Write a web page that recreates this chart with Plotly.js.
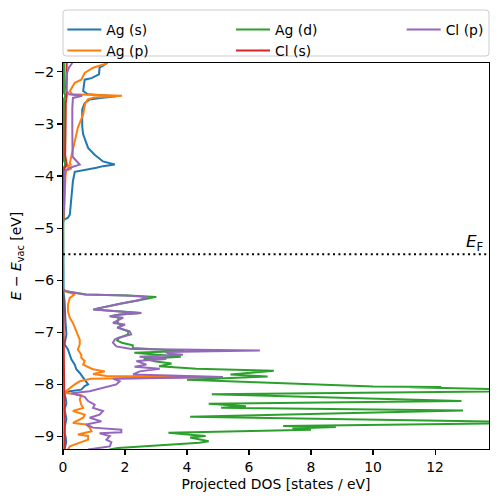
<!DOCTYPE html>
<html>
<head>
<meta charset="utf-8">
<script src="https://cdn.plot.ly/plotly-3.0.1.min.js"></script>
<style>
  html, body { margin: 0; padding: 0; background: #ffffff; }
  #chart { width: 498px; height: 502px; }
</style>
</head>
<body>
<div id="chart"></div>
<script>
// ---------- data (energy E - E_vac [eV] vs projected DOS [states / eV]) ----------
const seriesNames = ["Ag (s)", "Ag (p)", "Ag (d)", "Cl (s)", "Cl (p)"];
const seriesColors = ["#1f77b4", "#ff7f0e", "#2ca02c", "#d62728", "#9467bd"];

const agS_E = [-1.83, -1.86, -1.92, -2.05, -2.12, -2.15, -2.28, -2.37, -2.43, -2.47, -2.50, -2.53, -2.60, -2.72, -3.05, -3.20, -3.46, -3.59, -3.72, -3.78, -3.81, -3.84, -3.92, -4.10, -4.42, -4.74, -4.80, -4.84, -4.90,
  -6.15, -6.25, -6.40, -6.60, -6.80, -7.04, -7.23, -7.33, -7.43, -7.52, -7.62, -7.71, -7.78, -7.87, -7.95, -8.00, -8.03, -8.10, -8.13, -8.18, -8.25, -8.36, -8.48, -8.58, -8.67, -8.80, -8.93, -9.02, -9.12, -9.25];
const agS_dos = [1.40, 1.35, 1.18, 1.16, 0.92, 0.70, 0.67, 0.65, 0.80, 1.72, 1.20, 0.86, 0.70, 0.62, 0.62, 0.65, 0.81, 1.02, 1.29, 1.67, 1.29, 1.08, 0.38, 0.32, 0.27, 0.22, 0.16, 0.02, 0.0,
  0.0, 0.02, 0.05, 0.06, 0.08, 0.11, 0.05, 0.16, 0.22, 0.27, 0.38, 0.43, 0.54, 0.65, 0.75, 0.81, 0.70, 0.59, 0.22, 0.05, 0.08, 0.11, 0.05, 0.09, 0.11, 0.06, 0.05, 0.09, 0.10, 0.05];

const agP_E = [-1.83, -1.86, -1.92, -2.02, -2.15, -2.21, -2.31, -2.37, -2.43, -2.46, -2.49, -2.53, -2.60, -2.82, -3.07, -3.33, -3.65, -3.75, -3.78, -3.81, -3.85, -3.90, -4.00, -4.40, -4.80, -4.86,
  -6.15, -6.21, -6.27, -6.34, -6.47, -6.60, -6.72, -6.82, -6.91, -7.04, -7.14, -7.23, -7.33, -7.43, -7.49, -7.55, -7.62, -7.68, -7.71, -7.75, -7.80, -7.84, -7.86, -7.89, -7.94, -8.00, -8.10, -8.16, -8.19, -8.21, -8.29, -8.39, -8.45, -8.51, -8.58, -8.64, -8.74, -8.77, -8.83, -8.90, -8.96, -8.99, -9.06, -9.12, -9.19, -9.25];
const agP_dos = [1.45, 1.30, 0.97, 0.70, 0.59, 0.38, 0.27, 0.22, 0.30, 1.90, 1.00, 0.80, 0.72, 0.65, 0.48, 0.38, 0.27, 0.22, 0.25, 0.10, 0.28, 0.10, 0.08, 0.05, 0.03, 0.0,
  0.0, 0.05, 0.38, 0.22, 0.16, 0.16, 0.22, 0.32, 0.38, 0.48, 0.54, 0.54, 0.48, 0.59, 0.59, 0.70, 0.65, 0.86, 0.97, 1.35, 0.97, 1.40, 4.90, 0.90, 0.54, 0.38, 0.16, 0.03, 0.43, 0.59, 0.54, 0.59, 0.65, 0.32, 0.70, 0.65, 0.32, 0.75, 0.86, 0.92, 0.48, 0.81, 0.81, 0.54, 0.22, 0.16];

const agD_E = [-1.83, -2.40, -2.46, -2.52, -3.70, -3.78, -3.85, -4.80, -4.86,
  -6.18, -6.21, -6.25, -6.275, -6.294, -6.32, -6.38, -6.45, -6.56, -6.60, -6.63, -6.66, -6.69, -6.72, -6.82, -6.86, -6.91, -6.98, -7.04, -7.11, -7.16, -7.20, -7.25, -7.30, -7.36, -7.39, -7.43, -7.47, -7.51, -7.56, -7.60, -7.65, -7.70, -7.74, -7.81, -7.85, -7.91, -8.04, -8.05, -8.055, -8.12, -8.19, -8.32, -8.37, -8.42, -8.45, -8.50, -8.62, -8.735, -8.80, -8.82, -8.845, -8.87, -8.93, -8.97, -8.99, -9.02, -9.06, -9.09, -9.12, -9.16, -9.22, -9.25];
const agD_dos = [0.03, 0.03, 0.08, 0.03, 0.03, 0.07, 0.02, 0.01, 0.0,
  0.0, 0.10, 0.45, 0.75, 2.10, 3.01, 2.50, 1.85, 1.00, 1.85, 2.50, 1.85, 1.55, 1.80, 1.75, 1.90, 1.75, 2.10, 2.10, 1.80, 1.75, 1.90, 2.25, 2.25, 3.90, 2.30, 3.00, 3.80, 2.60, 3.00, 3.50, 3.10, 4.30, 6.80, 5.40, 6.60, 4.00, 10.0, 12.2, 11.2, 16.0, 4.80, 12.85, 4.70, 5.90, 5.10, 12.9, 4.10, 16.0, 7.10, 8.80, 7.40, 8.00, 3.40, 4.20, 4.60, 4.10, 4.50, 4.70, 4.40, 3.30, 1.77, 1.50];

const clS_E = [-1.83, -2.00, -2.30, -2.46, -2.60, -3.20, -3.60, -3.78, -3.85, -4.20, -4.85, -4.90,
  -6.18, -6.30, -7.00, -7.50, -8.00, -8.20, -8.50, -8.90, -9.25];
const clS_dos = [0.12, 0.11, 0.10, 0.12, 0.09, 0.08, 0.07, 0.12, 0.05, 0.03, 0.01, 0.0,
  0.0, 0.01, 0.02, 0.03, 0.03, 0.05, 0.04, 0.05, 0.04];

const clP_E = [-1.83, -1.86, -1.92, -2.02, -2.20, -2.37, -2.43, -2.46, -2.50, -2.70, -3.10, -3.63, -3.72, -3.78, -3.84, -3.90, -4.50, -4.83, -4.88,
  -6.18, -6.21, -6.25, -6.275, -6.294, -6.32, -6.38, -6.45, -6.56, -6.60, -6.63, -6.66, -6.69, -6.72, -6.82, -6.85, -6.91, -6.98, -7.04, -7.11, -7.14, -7.20, -7.27, -7.32, -7.35, -7.38, -7.41, -7.43, -7.47, -7.51, -7.55, -7.62, -7.66, -7.70, -7.75, -7.81, -7.86, -7.89, -7.94, -8.00, -8.05, -8.13, -8.17, -8.24, -8.32, -8.39, -8.45, -8.51, -8.58, -8.64, -8.71, -8.77, -8.83, -8.87, -8.92, -8.94, -8.99, -9.06, -9.11, -9.19, -9.25];
const clP_dos = [0.30, 0.27, 0.19, 0.13, 0.12, 0.12, 0.20, 0.62, 0.32, 0.30, 0.30, 0.31, 0.45, 0.54, 0.22, 0.06, 0.04, 0.02, 0.0,
  0.0, 0.10, 0.45, 0.70, 2.04, 2.73, 2.47, 1.83, 0.97, 1.83, 2.53, 1.83, 1.50, 1.94, 1.61, 2.00, 1.77, 2.15, 2.20, 1.77, 1.67, 1.61, 1.72, 2.20, 6.35, 3.30, 3.44, 3.87, 2.47, 3.33, 2.37, 2.69, 2.31, 3.12, 2.47, 2.26, 5.16, 1.61, 1.83, 1.72, 1.40, 0.86, 0.27, 0.70, 0.81, 1.02, 0.97, 1.29, 1.18, 0.86, 1.24, 0.75, 0.97, 1.88, 1.88, 1.18, 1.51, 1.40, 1.56, 1.51, 0.81];

const fermiLevel = -5.5;
const xTicks = [0, 2, 4, 6, 8, 10, 12];
const yTicks = [-9, -8, -7, -6, -5, -4, -3, -2];
const xRange = [0, 13.74];
const yRange = [-9.24, -1.83];

// ---------- figure ----------
const FONT = "DejaVu Sans, Liberation Sans, sans-serif";
const energies = [agS_E, agP_E, agD_E, clS_E, clP_E];
const dosValues = [agS_dos, agP_dos, agD_dos, clS_dos, clP_dos];
const legendIds = ["legend", "legend", "legend2", "legend2", "legend3"];

const traces = seriesNames.map((name, i) => ({
  type: "scatter",
  mode: "lines",
  name: name,
  x: dosValues[i],
  y: energies[i],
  line: { color: seriesColors[i], width: 2 },
  legend: legendIds[i],
  hoverinfo: "skip"
}));

const legendCommon = {
  orientation: "v",
  bgcolor: "rgba(0,0,0,0)",
  borderwidth: 0,
  font: { family: FONT, size: 13.9, color: "#000" },
  itemwidth: 34,
  xanchor: "left",
  yanchor: "top",
  y: 1.127,
  tracegroupgap: 0
};

// rounded legend frame (paper coords)
const fx0 = 0, fx1 = 1, fy0 = (449 - 56) / 386, fy1 = (449 - 10) / 386;
const rx = 3 / 426, ry = 3 / 386;
const framePath =
  `M${fx0 + rx},${fy0} L${fx1 - rx},${fy0} Q${fx1},${fy0} ${fx1},${fy0 + ry} ` +
  `L${fx1},${fy1 - ry} Q${fx1},${fy1} ${fx1 - rx},${fy1} ` +
  `L${fx0 + rx},${fy1} Q${fx0},${fy1} ${fx0},${fy1 - ry} ` +
  `L${fx0},${fy0 + ry} Q${fx0},${fy0} ${fx0 + rx},${fy0} Z`;

const layout = {
  width: 498,
  height: 502,
  margin: { l: 63, r: 9, t: 63, b: 53, pad: 0 },
  paper_bgcolor: "#ffffff",
  plot_bgcolor: "#ffffff",
  font: { family: FONT, size: 13.9, color: "#000" },
  showlegend: true,
  legend: Object.assign({}, legendCommon, { x: -0.0016 }),
  legend2: Object.assign({}, legendCommon, { x: 0.3944 }),
  legend3: Object.assign({}, legendCommon, { x: 0.795 }),
  xaxis: {
    range: xRange,
    tickvals: xTicks,
    ticks: "outside",
    ticklen: 4.9,
    tickwidth: 1.1,
    tickcolor: "#000",
    showline: true,
    linecolor: "#000",
    linewidth: 1.1,
    mirror: true,
    showgrid: false,
    zeroline: false,
    tickfont: { family: FONT, size: 13.9, color: "#000" },
    title: { text: "Projected DOS [states / eV]", font: { family: FONT, size: 13.9, color: "#000" }, standoff: 5 }
  },
  yaxis: {
    range: yRange,
    tickvals: yTicks,
    ticks: "outside",
    ticklen: 4.9,
    tickwidth: 1.1,
    tickcolor: "#000",
    showline: true,
    linecolor: "#000",
    linewidth: 1.1,
    mirror: true,
    showgrid: false,
    zeroline: false,
    tickfont: { family: FONT, size: 13.9, color: "#000" },
    title: { text: "<i>E</i> − <i>E</i><sub>vac</sub> [eV]", font: { family: FONT, size: 13.9, color: "#000" }, standoff: 8 }
  },
  shapes: [
    {
      type: "line", xref: "paper", x0: 0, x1: 1, yref: "y", y0: fermiLevel, y1: fermiLevel,
      line: { color: "#000", width: 2, dash: "2px,3.4px" }, layer: "above"
    },
    {
      type: "path", xref: "paper", yref: "paper", path: framePath,
      line: { color: "#cccccc", width: 1 }, fillcolor: "rgba(255,255,255,0.8)", layer: "below"
    }
  ],
  annotations: [
    {
      xref: "paper", yref: "y", x: 1, y: fermiLevel, xanchor: "right", yanchor: "bottom",
      xshift: -3, yshift: -2, showarrow: false,
      text: "<i>E</i><sub>F</sub>",
      font: { family: FONT, size: 16.7, color: "#000" }
    }
  ]
};

Plotly.newPlot("chart", traces, layout, { displayModeBar: false, staticPlot: true });
</script>
</body>
</html>
